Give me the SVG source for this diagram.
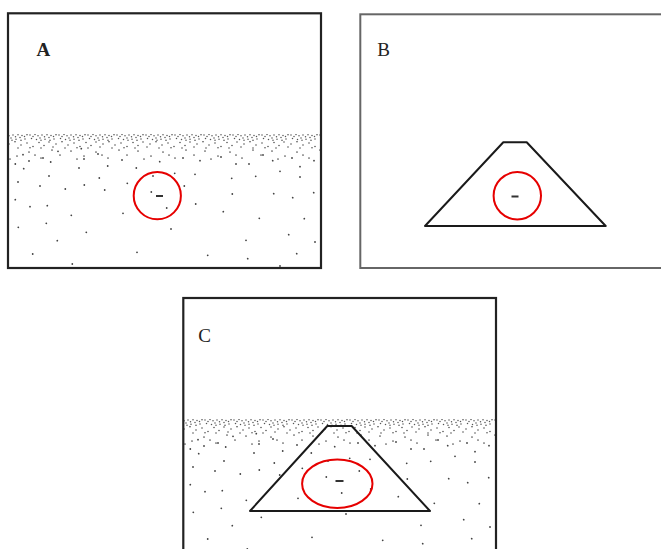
<svg xmlns="http://www.w3.org/2000/svg" xmlns:xlink="http://www.w3.org/1999/xlink" width="661" height="549" viewBox="0 0 661 549">
<style>
.frame{fill:none;stroke:#222;stroke-width:2.2}
.frameB{fill:none;stroke:#666;stroke-width:2}
.trap{fill:none;stroke:#1a1a1a;stroke-width:2;stroke-linejoin:round}
.ring{fill:none;stroke:#e60000;stroke-width:2}
.dash{fill:#333}
.lbl{font-family:"Liberation Serif","Times New Roman",serif;font-size:19px;fill:#222}
.dots{fill:none;stroke:#444;stroke-width:1.8;stroke-linecap:round}
.fd{fill:#555}
</style>
<defs>
<pattern id="p1" patternUnits="userSpaceOnUse" x="0" y="134" width="29" height="7">
<g class="fd">
<circle cx="1" cy="1" r="0.75"/><circle cx="4" cy="2.5" r="0.75"/><circle cx="6" cy="0.6" r="0.75"/><circle cx="9" cy="1.8" r="0.75"/><circle cx="11" cy="4" r="0.75"/><circle cx="13" cy="1" r="0.75"/><circle cx="15.5" cy="2.8" r="0.75"/><circle cx="18" cy="0.8" r="0.75"/><circle cx="20" cy="3.5" r="0.75"/><circle cx="22" cy="1.5" r="0.75"/><circle cx="24.5" cy="2.5" r="0.75"/><circle cx="27" cy="0.7" r="0.75"/><circle cx="2.5" cy="4.6" r="0.75"/><circle cx="7.5" cy="5.5" r="0.75"/><circle cx="16" cy="5.2" r="0.75"/><circle cx="25" cy="5" r="0.75"/><circle cx="12" cy="6.2" r="0.75"/><circle cx="21" cy="6.3" r="0.75"/>
</g>
</pattern>
<pattern id="p2" patternUnits="userSpaceOnUse" x="0" y="141" width="47" height="8">
<g class="fd">
<circle cx="2" cy="1" r="0.8"/><circle cx="9" cy="3" r="0.8"/><circle cx="15" cy="0.7" r="0.8"/><circle cx="21" cy="4" r="0.8"/><circle cx="27" cy="2" r="0.8"/><circle cx="33" cy="5.5" r="0.8"/><circle cx="39" cy="1.5" r="0.8"/><circle cx="44" cy="4.5" r="0.8"/><circle cx="6" cy="6" r="0.8"/><circle cx="18" cy="7" r="0.8"/><circle cx="30" cy="6.8" r="0.8"/><circle cx="41" cy="7" r="0.8"/>
</g>
</pattern>
<pattern id="p3" patternUnits="userSpaceOnUse" x="0" y="149" width="67" height="11">
<g class="fd">
<circle cx="4" cy="2" r="0.85"/><circle cx="17" cy="7" r="0.85"/><circle cx="29" cy="3" r="0.85"/><circle cx="41" cy="9" r="0.85"/><circle cx="52" cy="1" r="0.85"/><circle cx="60" cy="6" r="0.85"/><circle cx="10" cy="10" r="0.85"/><circle cx="35" cy="6" r="0.85"/>
</g>
</pattern>
<g id="field">
<rect x="9" y="134" width="311" height="7" fill="url(#p1)"/>
<rect x="9" y="141" width="311" height="8" fill="url(#p2)"/>
<rect x="9" y="149" width="311" height="11" fill="url(#p3)"/>
<path class="dots" d="M15.3 164h.01M29 161h.01M50.7 162h.01M23.7 168.7h.01M79 168h.01M107.7 166h.01M136.3 168h.01M159.7 161.7h.01M49 176h.01M99.3 178h.01M153 176h.01M18 182h.01M40 186h.01M84.3 185h.01M127.3 183.3h.01M65.3 189h.01M104.7 190h.01M151.3 192h.01M15.3 199.7h.01M30 206.7h.01M47.3 205.7h.01M123 213.3h.01M71.3 215.3h.01M166.7 208h.01M18.3 227.3h.01M46.3 223.3h.01M86.3 232.3h.01M57.3 240.7h.01M32.7 254h.01M137 252.3h.01M72.3 264h.01M200 160.7h.01M249 164h.01M272.7 160.7h.01M300 166.7h.01M314 160.7h.01M174.7 173.3h.01M195 174.3h.01M231.7 178.3h.01M255.7 176.3h.01M280 171.3h.01M300 177h.01M184.3 186h.01M232.3 194h.01M273.7 193.7h.01M292.7 197.7h.01M313.7 192.7h.01M195.7 204h.01M223.3 211.7h.01M259.3 218.3h.01M304.3 218.7h.01M171 229h.01M288.7 234.7h.01M246 240.3h.01M315 242h.01M207.7 255.3h.01M247.7 258.7h.01M296.7 253.7h.01M280 266h.01M43 158h.01M84 159h.01M98 154h.01M23 154.7h.01M58 151.3h.01M81.3 148.7h.01M122 160h.01M183 158h.01M221 157h.01M263 155h.01M292 158h.01M236 164h.01"/>
</g>
</defs>

<g id="panel-A">
<use xlink:href="#field" href="#field"/>
<rect class="frame" x="8" y="13.3" width="313" height="254.7"/>
<text class="lbl" x="36.5" y="56" font-weight="bold">A</text>
<circle class="ring" cx="157.3" cy="195.7" r="23.6"/>
<rect class="dash" x="156" y="195" width="7" height="2"/>
</g>

<g id="panel-B">
<rect class="frameB" x="360.3" y="14.3" width="305" height="253.7"/>
<text class="lbl" x="377.3" y="56">B</text>
<polygon class="trap" points="503.3,142.3 526.7,142.3 605.7,226 425,226"/>
<circle class="ring" cx="517.3" cy="195.8" r="23.7"/>
<rect class="dash" x="511.5" y="195.5" width="7" height="2"/>
</g>

<g id="panel-C">
<use xlink:href="#field" href="#field" transform="translate(175,285)"/>
<rect class="frame" x="183.3" y="298" width="312.7" height="260"/>
<text class="lbl" x="198.3" y="341.5" fill="#333">C</text>
<polygon class="trap" points="327.3,426 351.7,426 430,511 250,511"/>
<ellipse class="ring" cx="337.3" cy="483.8" rx="35.2" ry="24.2"/>
<rect class="dash" x="335.5" y="480" width="8" height="2"/>
</g>
</svg>
